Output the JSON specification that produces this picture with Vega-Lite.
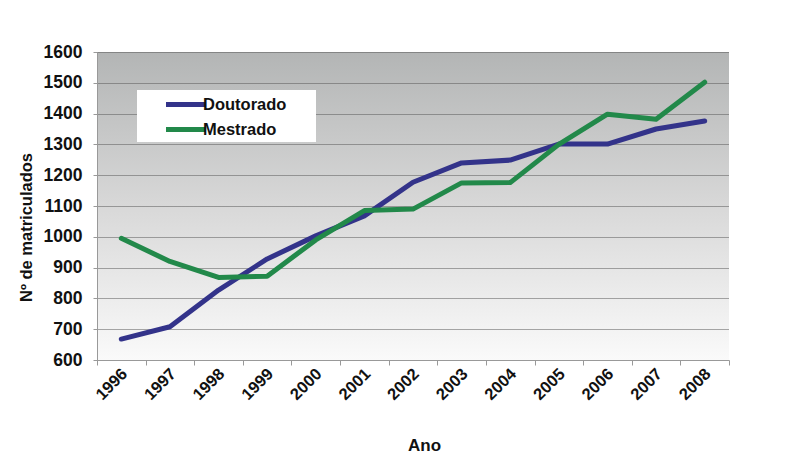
{
  "$schema": "https://vega.github.io/schema/vega-lite/v6.json",
  "width": 632,
  "height": 308,
  "autosize": {"type": "none"},
  "padding": {"left": 97, "top": 52, "right": 71, "bottom": 95},
  "background": "white",
  "config": {
    "font": "Liberation Sans",
    "view": {
      "stroke": null,
      "fill": {"gradient": "linear", "x1": 0, "y1": 0, "x2": 0, "y2": 1, "stops": [{"offset": 0, "color": "#b3b5b5"}, {"offset": 0.5, "color": "#d8d8d8"}, {"offset": 1, "color": "#fafafa"}]}
    }
  },
  "data": {
    "values": [
      {"ano": "1996", "serie": "Doutorado", "valor": 668},
      {"ano": "1997", "serie": "Doutorado", "valor": 708},
      {"ano": "1998", "serie": "Doutorado", "valor": 827},
      {"ano": "1999", "serie": "Doutorado", "valor": 928},
      {"ano": "2000", "serie": "Doutorado", "valor": 1003},
      {"ano": "2001", "serie": "Doutorado", "valor": 1068},
      {"ano": "2002", "serie": "Doutorado", "valor": 1177},
      {"ano": "2003", "serie": "Doutorado", "valor": 1240},
      {"ano": "2004", "serie": "Doutorado", "valor": 1249},
      {"ano": "2005", "serie": "Doutorado", "valor": 1301},
      {"ano": "2006", "serie": "Doutorado", "valor": 1301},
      {"ano": "2007", "serie": "Doutorado", "valor": 1350},
      {"ano": "2008", "serie": "Doutorado", "valor": 1376},
      {"ano": "1996", "serie": "Mestrado", "valor": 995},
      {"ano": "1997", "serie": "Mestrado", "valor": 920},
      {"ano": "1998", "serie": "Mestrado", "valor": 868},
      {"ano": "1999", "serie": "Mestrado", "valor": 872},
      {"ano": "2000", "serie": "Mestrado", "valor": 990},
      {"ano": "2001", "serie": "Mestrado", "valor": 1085},
      {"ano": "2002", "serie": "Mestrado", "valor": 1090},
      {"ano": "2003", "serie": "Mestrado", "valor": 1175},
      {"ano": "2004", "serie": "Mestrado", "valor": 1176},
      {"ano": "2005", "serie": "Mestrado", "valor": 1300},
      {"ano": "2006", "serie": "Mestrado", "valor": 1398},
      {"ano": "2007", "serie": "Mestrado", "valor": 1382},
      {"ano": "2008", "serie": "Mestrado", "valor": 1502}
    ]
  },
  "mark": {"type": "line", "strokeWidth": 5, "strokeCap": "round", "strokeJoin": "round"},
  "encoding": {
    "x": {
      "field": "ano",
      "type": "ordinal",
      "scale": {"type": "band", "paddingInner": 0, "paddingOuter": 0},
      "axis": {
        "title": "Ano",
        "titleFontSize": 17,
        "titleFontWeight": "bold",
        "titleColor": "#111",
        "titleX": 327,
        "titleY": 90,
        "titleBaseline": "alphabetic",
        "labelAngle": -45,
        "labelAlign": "right",
        "labelBaseline": "middle",
        "labelFontSize": 16.5,
        "labelFontWeight": "bold",
        "labelColor": "#111",
        "labelPadding": 6,
        "labelOffset": 3,
        "tickBand": "extent",
        "tickSize": 5,
        "tickColor": "#999",
        "domainColor": "#999",
        "grid": false
      }
    },
    "y": {
      "field": "valor",
      "type": "quantitative",
      "scale": {"domain": [600, 1600], "nice": false, "zero": false},
      "axis": {
        "title": "Nº de matriculados",
        "titleFontSize": 16.5,
        "titleFontWeight": "bold",
        "titleColor": "#111",
        "titleX": -71,
        "titleY": 175,
        "titleAngle": -90,
        "titleBaseline": "middle",
        "titleAlign": "center",
        "values": [600, 700, 800, 900, 1000, 1100, 1200, 1300, 1400, 1500, 1600],
        "format": "d",
        "labelFontSize": 17.5,
        "labelFontWeight": "bold",
        "labelColor": "#111",
        "labelPadding": 11,
        "tickSize": 4,
        "tickColor": "#999",
        "domainColor": "#999",
        "grid": true,
        "gridColor": "#555555",
        "gridDash": [1, 1],
        "gridWidth": 1
      }
    },
    "color": {
      "field": "serie",
      "type": "nominal",
      "scale": {"domain": ["Doutorado", "Mestrado"], "range": ["#33338a", "#22894a"]},
      "legend": {
        "title": null,
        "orient": "none",
        "legendX": 40,
        "legendY": 38,
        "fillColor": "white",
        "padding": 2,
        "symbolType": "M-2,0H2",
        "symbolStrokeWidth": 5,
        "symbolSize": 380,
        "symbolOffset": 34,
        "labelFontSize": 16.5,
        "labelFontWeight": "bold",
        "labelColor": "#111",
        "labelOffset": 5,
        "rowPadding": 2,
        "labelLimit": 300,
        "labelExpr": "datum.label + '\u00a0\u00a0\u00a0\u00a0\u00a0\u00a0\u200b'"
      }
    }
  }
}
